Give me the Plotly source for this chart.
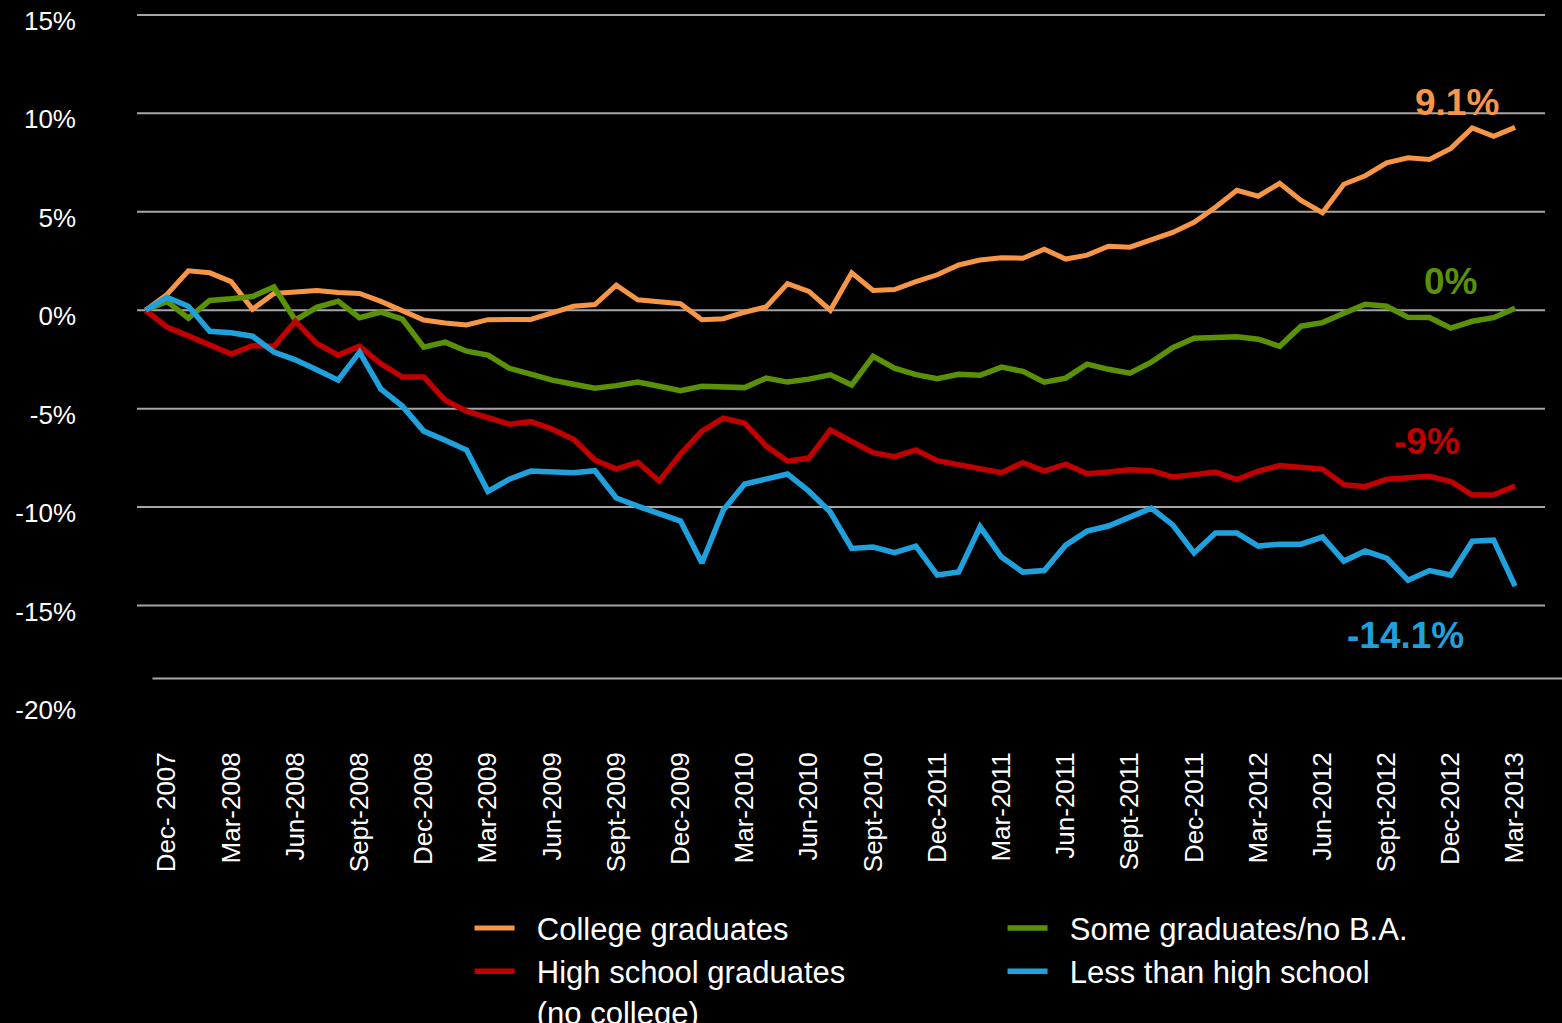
import plotly.graph_objects as go

# Monthly series, Nov 2007 (baseline = 0%) through Mar 2013, % change in employment
college = [0, 0.8, 2.0, 1.9, 1.45, 0.05, 0.85, 0.9, 1.0, 0.9, 0.85, 0.45, -0.05, -0.5, -0.65, -0.75,
           -0.48, -0.47, -0.47, -0.13, 0.2, 0.29, 1.27, 0.53, 0.43, 0.33, -0.48, -0.43, -0.1, 0.17,
           1.35, 0.96, 0.0, 1.9, 1.0, 1.05, 1.45, 1.8, 2.3, 2.55, 2.67, 2.64, 3.1, 2.6, 2.8, 3.25,
           3.2, 3.55, 3.95, 4.47, 5.23, 6.09, 5.79, 6.45, 5.58, 4.95, 6.4, 6.83, 7.49, 7.74, 7.66,
           8.22, 9.26, 8.83, 9.29]
some_college = [0, 0.45, -0.4, 0.5, 0.58, 0.7, 1.18, -0.5, 0.15, 0.46, -0.38, -0.1, -0.45, -1.88,
                -1.62, -2.08, -2.28, -2.95, -3.25, -3.55, -3.76, -3.96, -3.83, -3.65, -3.86, -4.09,
                -3.86, -3.88, -3.93, -3.45, -3.65, -3.5, -3.28, -3.8, -2.34, -2.94, -3.27, -3.48,
                -3.25, -3.3, -2.89, -3.1, -3.65, -3.45, -2.74, -3.0, -3.2, -2.64, -1.9, -1.42, -1.4,
                -1.35, -1.47, -1.83, -0.81, -0.63, -0.15, 0.3, 0.2, -0.36, -0.37, -0.91, -0.56,
                -0.38, 0.1]
high_school = [0, -0.86, -1.3, -1.78, -2.23, -1.8, -1.83, -0.56, -1.68, -2.28, -1.83, -2.72, -3.39,
               -3.39, -4.57, -5.13, -5.46, -5.79, -5.66, -6.04, -6.55, -7.61, -8.07, -7.72, -8.68,
               -7.31, -6.14, -5.48, -5.74, -6.9, -7.67, -7.51, -6.09, -6.65, -7.23, -7.44, -7.1,
               -7.64, -7.82, -8.02, -8.25, -7.74, -8.17, -7.82, -8.3, -8.22, -8.1, -8.15, -8.47,
               -8.35, -8.22, -8.6, -8.17, -7.89, -7.99, -8.07, -8.86, -8.96, -8.58, -8.48, -8.43,
               -8.7, -9.39, -9.37, -8.93]
less_hs = [0, 0.66, 0.2, -1.07, -1.14, -1.32, -2.13, -2.52, -3.02, -3.55, -2.13, -4.01, -4.87,
           -6.14, -6.6, -7.1, -9.2, -8.58, -8.17, -8.2, -8.25, -8.15, -9.54, -9.95, -10.3, -10.71,
           -12.84, -10.15, -8.83, -8.55, -8.32, -9.19, -10.25, -12.1, -12.03, -12.31, -11.98,
           -13.45, -13.3, -11.0, -12.54, -13.3, -13.22, -11.93, -11.22, -10.96, -10.5, -10.05,
           -10.9, -12.33, -11.32, -11.32, -11.98, -11.88, -11.88, -11.52, -12.74, -12.23, -12.59,
           -13.71, -13.22, -13.45, -11.73, -11.68, -14.01]

series_names = ["College graduates", "Some graduates/no B.A.",
                "High school graduates<br>(no college)", "Less than high school"]

x_tick_labels = ["Dec- 2007", "Mar-2008", "Jun-2008", "Sept-2008", "Dec-2008", "Mar-2009",
                 "Jun-2009", "Sept-2009", "Dec-2009", "Mar-2010", "Jun-2010", "Sept-2010",
                 "Dec-2011", "Mar-2011", "Jun-2011", "Sept-2011", "Dec-2011", "Mar-2012",
                 "Jun-2012", "Sept-2012", "Dec-2012", "Mar-2013"]
y_tick_values = [15, 10, 5, 0, -5, -10, -15, -20]
y_tick_labels = ["15%", "10%", "5%", "0%", "-5%", "-10%", "-15%", "-20%"]
grid_values = [15, 10, 5, 0, -5, -10, -15]

end_labels = ["9.1%", "0%", "-9%", "-14.1%"]

ORANGE = "#F79646"
GREEN = "#5A9106"
RED = "#C00000"
BLUE = "#1FA1DD"
FONT = "Liberation Sans, Arial, sans-serif"
PAD = "\u00a0\u00a0"

x = list(range(len(college)))

fig = go.Figure()
series = [
    (series_names[0], college, ORANGE, 5),
    (series_names[1], some_college, GREEN, 5.5),
    (series_names[2], high_school, RED, 5.5),
    (series_names[3], less_hs, BLUE, 5.5),
]
for name, vals, col, w in series:
    label = PAD + name.replace("<br>", "<br>" + PAD)
    fig.add_trace(go.Scatter(x=x, y=vals, mode="lines", name=label,
                             line=dict(color=col, width=w), cliponaxis=False))

shapes = []
for g in grid_values:
    shapes.append(dict(type="line", xref="paper", yref="y", x0=0, x1=1, y0=g, y1=g,
                       line=dict(color="#A6A6A6", width=2), layer="below"))
# category axis line
shapes.append(dict(type="line", xref="paper", yref="y", x0=0.011, x1=1.02, y0=-18.7, y1=-18.7,
                   line=dict(color="#A6A6A6", width=2), layer="below"))

annotations = [
    dict(x=61.3, y=10.55, text="<b>%s</b>" % end_labels[0], font=dict(color=ORANGE, size=37, family=FONT)),
    dict(x=61.0, y=1.45, text="<b>%s</b>" % end_labels[1], font=dict(color=GREEN, size=37, family=FONT)),
    dict(x=59.9, y=-6.65, text="<b>%s</b>" % end_labels[2], font=dict(color=RED, size=37, family=FONT)),
    dict(x=58.9, y=-16.5, text="<b>%s</b>" % end_labels[3], font=dict(color=BLUE, size=37, family=FONT)),
]
for a in annotations:
    a.update(xref="x", yref="y", showarrow=False)

fig.update_layout(
    width=1562, height=1023,
    paper_bgcolor="black", plot_bgcolor="black",
    margin=dict(l=137, r=17, t=9, b=319, autoexpand=False),
    font=dict(family=FONT, color="white", size=26),
    shapes=shapes,
    annotations=annotations,
    showlegend=True,
    legend=dict(orientation="h", xref="container", yref="container",
                x=0.3006, y=0.119, xanchor="left", yanchor="top",
                entrywidth=478, entrywidthmode="pixels", itemwidth=40,
                valign="top", traceorder="normal",
                font=dict(size=31, color="white", family=FONT),
                bgcolor="rgba(0,0,0,0)", tracegroupgap=0),
    xaxis=dict(range=[-0.4, 65.4], showgrid=False, zeroline=False, showline=False,
               automargin=False,
               tickmode="array", tickvals=list(range(1, len(college), 3)),
               ticktext=x_tick_labels, tickangle=-90, ticks="",
               ticklabelstandoff=42,
               tickfont=dict(size=26, color="white", family=FONT)),
    yaxis=dict(range=[-20, 15.3], showgrid=False, zeroline=False, showline=False,
               automargin=False,
               tickmode="array", tickvals=y_tick_values, ticktext=y_tick_labels, ticks="",
               ticklabelstandoff=60, ticklabelshift=6, ticklabeloverflow="allow",
               tickfont=dict(size=26, color="white", family=FONT)),
)

fig.write_html("out.html", config={"displayModeBar": False},
               post_script="document.body.style.margin='0';document.body.style.background='black';")
